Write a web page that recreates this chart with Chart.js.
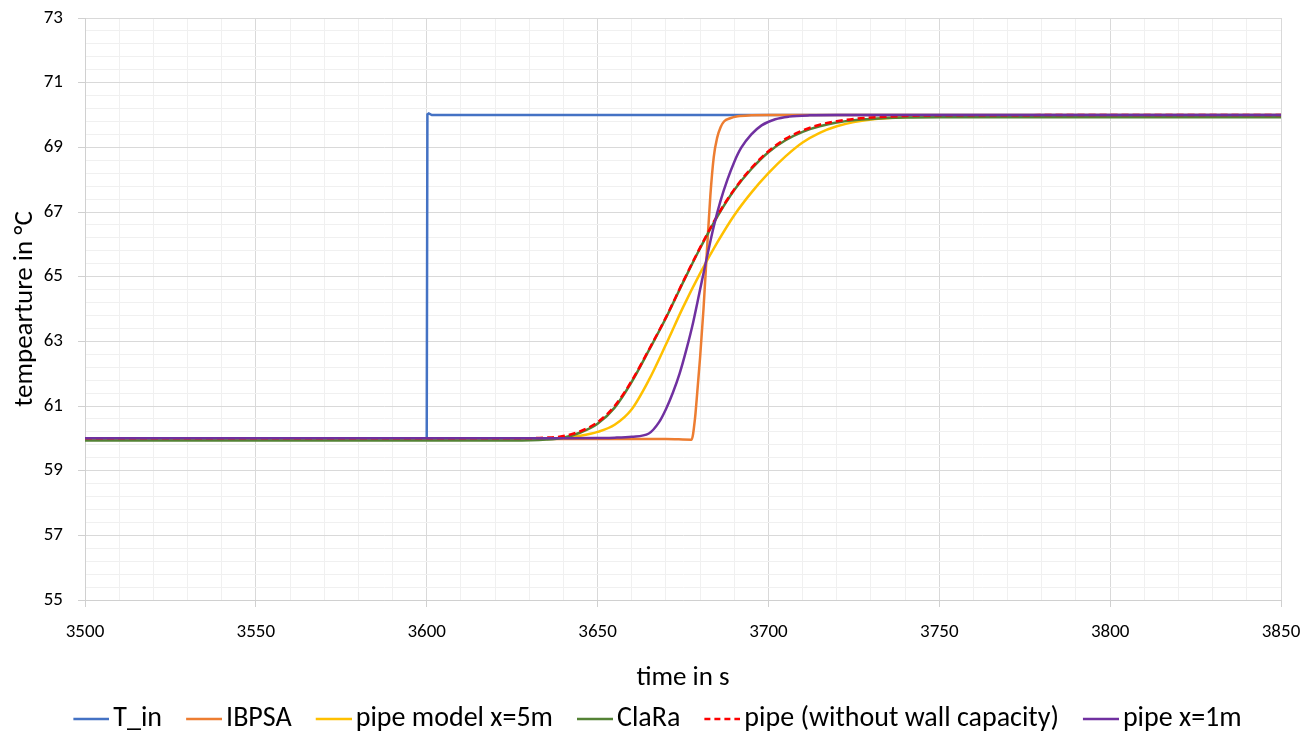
<!DOCTYPE html>
<html>
<head>
<meta charset="utf-8">
<script src="https://cdn.jsdelivr.net/npm/chart.js@4.4.1/dist/chart.umd.min.js"></script>
<style>
  body { margin: 0; background: #fff; }
  #wrap { width: 1313px; height: 731px; }
</style>
</head>
<body>
<div id="wrap"><canvas id="chart"></canvas></div>
<script>
// series (time in s, temperature in °C)
const tInTime = [3500, 3600, 3600.2, 3600.6, 3601.5, 3850];
const tInTemp = [60, 60, 70.02, 70.05, 70, 70];

const ibpsaTime = [3500, 3670, 3677.5, 3678.5, 3679, 3680, 3681, 3682, 3683, 3684, 3685, 3686, 3687, 3688.8, 3691, 3695, 3700, 3850];
const ibpsaTemp = [59.98, 59.98, 59.96, 60.6, 61.2, 62.5, 64.0, 65.8, 67.5, 68.7, 69.3, 69.62, 69.8, 69.9, 69.96, 69.99, 70.0, 70.0];

const pipe5Time = [3500, 3630, 3640, 3645, 3650, 3655, 3660, 3665, 3670, 3675, 3680, 3685, 3690, 3695, 3700, 3705, 3710, 3715, 3720, 3725, 3730, 3740, 3750, 3760, 3850];
const pipe5Temp = [59.98, 59.98, 60.01, 60.08, 60.2, 60.42, 60.9, 61.8, 62.9, 64.05, 65.1, 66.05, 66.9, 67.6, 68.2, 68.72, 69.15, 69.45, 69.65, 69.78, 69.86, 69.94, 69.97, 69.98, 69.98];

const claraTime = [3500, 3625, 3635, 3640, 3645, 3650, 3655, 3660, 3665, 3670, 3675, 3680, 3685, 3690, 3695, 3700, 3705, 3710, 3715, 3720, 3725, 3730, 3740, 3750, 3850];
const claraTemp = [59.93, 59.93, 59.96, 60.02, 60.18, 60.45, 60.95, 61.75, 62.72, 63.72, 64.82, 65.88, 66.85, 67.68, 68.33, 68.85, 69.22, 69.48, 69.65, 69.77, 69.84, 69.88, 69.92, 69.93, 69.93];

const noWallTime = claraTime;
const noWallTemp = [60.0, 60.0, 60.02, 60.07, 60.22, 60.5, 61.0, 61.78, 62.74, 63.74, 64.84, 65.9, 66.88, 67.7, 68.36, 68.88, 69.26, 69.52, 69.7, 69.81, 69.88, 69.92, 69.97, 69.99, 70.0];

const pipe1Time = [3500, 3640, 3650, 3655, 3660, 3665, 3668, 3670, 3672, 3674, 3676, 3678, 3680, 3682, 3684, 3686, 3688, 3690, 3692, 3695, 3698, 3702, 3706, 3712, 3720, 3850];
const pipe1Temp = [60.0, 60.0, 60.01, 60.02, 60.05, 60.15, 60.5, 60.9, 61.4, 62.0, 62.75, 63.6, 64.6, 65.6, 66.55, 67.35, 68.0, 68.55, 68.98, 69.4, 69.68, 69.87, 69.95, 69.99, 70.0, 70.0];

const xMin = 3500, xMax = 3850, xMajor = 50, xMinor = 10;
const yMin = 55, yMax = 73, yMajor = 2, yMinor = 0.4;

function pts(xs, ys) {
  return xs.map((x, i) => ({ x: x, y: ys[i] }));
}

function isMajor(v, start, step) {
  const k = (v - start) / step;
  return Math.abs(k - Math.round(k)) < 1e-6;
}

const FONT = "Carlito, Lato, sans-serif";
const LEG_SIZE = 28;
const LEG_BOX = 26;   // legend box width used by Chart.js for spacing

// legend marker: a 36px line, drawn into a small canvas so the line can sit
// closer to the text than Chart.js would put it
function legendMark(color, dash) {
  const c = document.createElement('canvas');
  c.width = 46;
  c.height = 4;
  const g = c.getContext('2d');
  g.strokeStyle = color;
  g.lineWidth = 2.5;
  if (dash) g.setLineDash(dash);
  g.beginPath();
  g.moveTo(10, 2);
  g.lineTo(46, 2);
  g.stroke();
  return c;
}

function line(label, xs, ys, color, order, extra) {
  const dash = extra && extra.borderDash;
  return Object.assign({
    label: label,
    data: pts(xs, ys),
    borderColor: color,
    backgroundColor: color,
    borderWidth: 2.5,
    pointRadius: 0,
    pointHoverRadius: 0,
    pointStyle: legendMark(color, dash ? [6, 4] : null),
    cubicInterpolationMode: 'monotone',
    order: order
  }, extra || {});
}

// nudge the legend a little to the right / down after layout
const legendNudge = {
  id: 'legendNudge',
  afterLayout(chart) {
    const l = chart.legend;
    if (!l) return;
    l.left += 17; l.right += 17;
    l.top += 2; l.bottom += 2;
  }
};

const ctx = document.getElementById('chart').getContext('2d');
const chart = new Chart(ctx, {
  type: 'line',
  data: {
    datasets: [
      line('T_in', tInTime, tInTemp, '#4472C4', 6, { cubicInterpolationMode: 'default', tension: 0 }),
      line('IBPSA', ibpsaTime, ibpsaTemp, '#ED7D31', 5),
      line('pipe model x=5m', pipe5Time, pipe5Temp, '#FFC000', 4),
      line('ClaRa', claraTime, claraTemp, '#548235', 3),
      line('pipe (without wall capacity)', noWallTime, noWallTemp, '#FF0000', 2, { borderDash: [7, 4] }),
      line('pipe x=1m', pipe1Time, pipe1Temp, '#7030A0', 1)
    ]
  },
  plugins: [legendNudge],
  options: {
    responsive: true,
    maintainAspectRatio: false,
    animation: false,
    layout: { padding: { top: 18, right: 32, left: 0, bottom: 0 } },
    plugins: {
      tooltip: { enabled: false },
      legend: {
        position: 'bottom',
        maxHeight: 52,
        labels: {
          usePointStyle: true,
          pointStyleWidth: LEG_BOX,
          padding: 24,
          color: '#000',
          font: { family: FONT, size: LEG_SIZE },
          sort: (a, b) => a.datasetIndex - b.datasetIndex
        }
      }
    },
    scales: {
      x: {
        type: 'linear',
        min: xMin,
        max: xMax,
        afterFit: s => { s.height = 79; s.paddingLeft = 0; s.paddingRight = 0; },
        ticks: {
          stepSize: xMinor,
          autoSkip: false,
          maxRotation: 0,
          padding: 14,
          color: '#000',
          font: { family: FONT, size: 19 },
          callback: v => isMajor(v, xMin, xMajor) ? String(v) : ''
        },
        grid: {
          color: c => isMajor(c.tick.value, xMin, xMajor) ? '#d9d9d9' : '#f0f0f0',
          tickColor: c => isMajor(c.tick.value, xMin, xMajor) ? '#d0d0d0' : 'rgba(0,0,0,0)',
          tickLength: 7,
          lineWidth: 1
        },
        border: { color: '#d0d0d0' },
        title: {
          display: true,
          text: 'time in s',
          color: '#000',
          font: { family: FONT, size: 27 },
          padding: { top: 0, bottom: -15 }
        }
      },
      y: {
        min: yMin,
        max: yMax,
        afterFit: s => { s.width = 85; s.paddingTop = 0; s.paddingBottom = 0; },
        ticks: {
          stepSize: yMinor,
          autoSkip: false,
          padding: 15,
          color: '#000',
          font: { family: FONT, size: 19 },
          callback: v => isMajor(v, yMin, yMajor) ? String(Math.round(v)) : ''
        },
        grid: {
          color: c => isMajor(c.tick.value, yMin, yMajor) ? '#d9d9d9' : '#f0f0f0',
          tickColor: c => isMajor(c.tick.value, yMin, yMajor) ? '#d0d0d0' : 'rgba(0,0,0,0)',
          tickLength: 7,
          lineWidth: 1
        },
        border: { color: '#d0d0d0' },
        title: {
          display: true,
          text: 'tempearture in °C',
          color: '#000',
          font: { family: FONT, size: 27 },
          padding: { top: 9, bottom: 0 }
        }
      }
    }
  }
});
</script>
</body>
</html>
